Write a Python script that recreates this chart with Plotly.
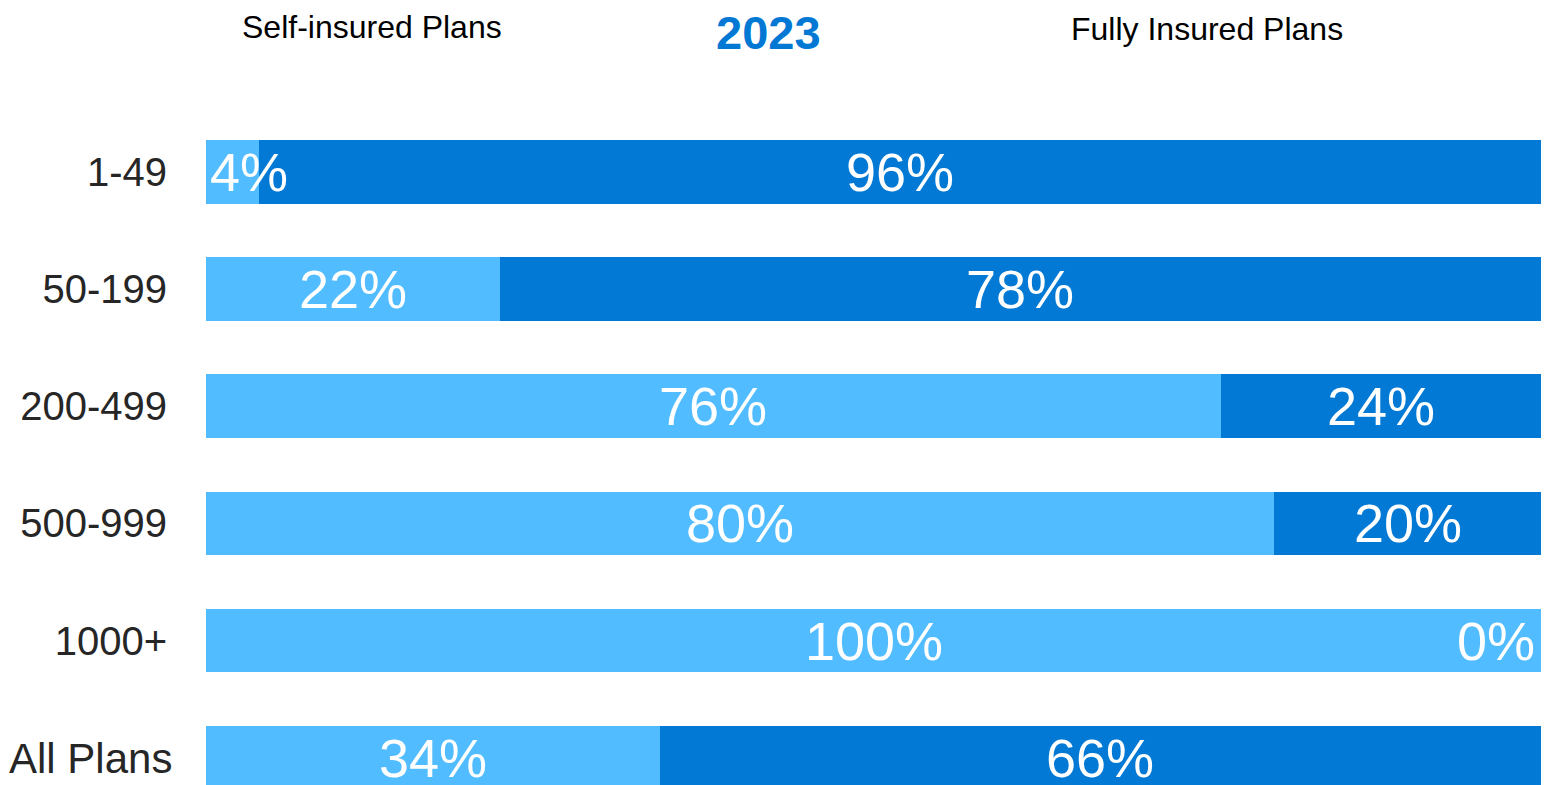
import plotly.graph_objects as go

# Plan funding by firm size, 2023
categories = ["1-49", "50-199", "200-499", "500-999", "1000+", "All Plans"]
self_insured = [4, 22, 76, 80, 100, 34]
fully_insured = [96, 78, 24, 20, 0, 66]

LIGHT = "#51BCFF"
DARK = "#0179D5"
FONT = "Liberation Sans, Arial, sans-serif"

fig = go.Figure()
fig.add_trace(go.Bar(y=categories, x=self_insured, orientation="h",
                     marker=dict(color=LIGHT, line=dict(width=0)),
                     name="Self-insured Plans", hoverinfo="x+y"))
fig.add_trace(go.Bar(y=categories, x=fully_insured, orientation="h",
                     marker=dict(color=DARK, line=dict(width=0)),
                     name="Fully Insured Plans", hoverinfo="x+y"))

label_font = dict(family=FONT, size=54, color="white")
annotations = []
for cat, s, f in zip(categories, self_insured, fully_insured):
    # self-insured segment label
    if s >= 10:
        annotations.append(dict(x=s / 2, y=cat, text=f"{s}%", showarrow=False,
                                xanchor="center", yanchor="middle", font=label_font))
    else:
        annotations.append(dict(x=0, y=cat, text=f"{s}%", showarrow=False,
                                xanchor="left", xshift=2, yanchor="middle", font=label_font))
    # fully insured segment label
    if f >= 10:
        annotations.append(dict(x=s + f / 2, y=cat, text=f"{f}%", showarrow=False,
                                xanchor="center", yanchor="middle", font=label_font))
    else:
        annotations.append(dict(x=100, y=cat, text=f"{f}%", showarrow=False,
                                xanchor="right", xshift=-4, yanchor="middle", font=label_font))

# headings above the bars
annotations += [
    dict(xref="paper", yref="paper", x=0.124, y=1.107, text="Self-insured Plans",
         showarrow=False, xanchor="center", yanchor="middle",
         font=dict(family=FONT, size=32, color="black")),
    dict(xref="paper", yref="paper", x=0.421, y=1.099, text="<b>2023</b>",
         showarrow=False, xanchor="center", yanchor="middle",
         font=dict(family=FONT, size=47, color="#0178D4")),
    dict(xref="paper", yref="paper", x=0.7496, y=1.104, text="Fully Insured Plans",
         showarrow=False, xanchor="center", yanchor="middle",
         font=dict(family=FONT, size=32, color="black")),
]

# the summary row label is set slightly larger and closer to its bar
summary = categories[-1]
annotations.append(dict(xref="paper", x=0, y=summary, text=summary, showarrow=False,
                        xanchor="right", xshift=-32, yshift=-1, yanchor="middle",
                        font=dict(family=FONT, size=42, color="#262626")))
tick_text = [c if c != summary else "" for c in categories]

fig.update_layout(
    width=1548, height=785,
    margin=dict(l=206, r=7, t=100, b=0),
    barmode="stack", bargap=0.458,
    plot_bgcolor="white", paper_bgcolor="white",
    showlegend=False,
    annotations=annotations,
    xaxis=dict(range=[0, 100], visible=False, fixedrange=True),
    yaxis=dict(type="category", categoryorder="array", categoryarray=categories,
               range=[5.232, -0.6126], tickvals=categories, ticktext=tick_text,
               showgrid=False, zeroline=False, showline=False, ticks="",
               ticklabelstandoff=38,
               tickfont=dict(family=FONT, size=40, color="#262626")),
)

fig.write_html("out.html")
